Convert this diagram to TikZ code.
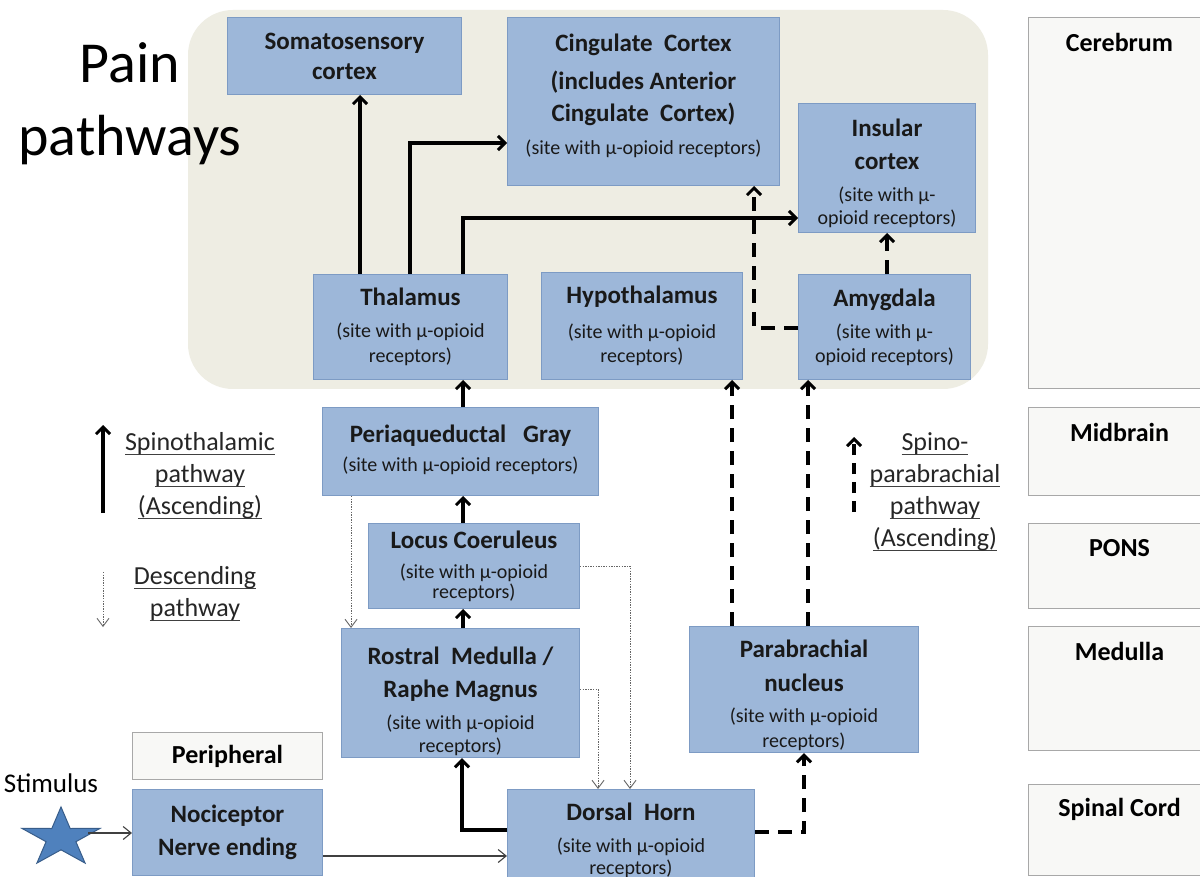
\documentclass[tikz,border=0pt]{standalone}
\usepackage{fontspec}
\setmainfont{Carlito}
\usetikzlibrary{arrows.meta,calc}
\definecolor{boxfill}{HTML}{9DB7D9}
\definecolor{boxline}{HTML}{7D9BC4}
\definecolor{zonefill}{HTML}{EEEDE3}
\definecolor{regfill}{HTML}{F8F8F6}
\definecolor{regline}{HTML}{A8A8A8}
\definecolor{starfill}{HTML}{4F81BD}
\definecolor{starline}{HTML}{385D8A}
\newcommand{\bt}{\fontsize{25}{30}\bfseries\selectfont}
\newcommand{\sm}[1]{{\fontsize{20}{24}\mdseries\selectfont #1}}
% underline drawn at a fixed depth, through descenders
\newcommand{\ulx}[1]{\setbox0\hbox{#1}\rlap{\color{black!75}\rule[-4pt]{\wd0}{1.1pt}}\box0}
\begin{document}
\begin{tikzpicture}[x=1pt,y=-1pt,
  box/.style={draw=boxline,fill=boxfill,line width=1pt,anchor=north west,
    align=center,inner sep=2pt,font=\bt,text=black!90},
  region/.style={draw=regline,fill=regfill,line width=1pt,anchor=north west},
  regtitle/.style={font=\fontsize{26}{30}\bfseries\selectfont,anchor=center,yshift=-25pt},
  asc/.style={line width=3.6pt,-{Straight Barb[length=7pt,width=14pt,line width=3pt]}},
  ascdash/.style={asc,dash pattern=on 14pt off 9pt},
  desc/.style={line width=0.9pt,gray!80!black,dash pattern=on 1.4pt off 1.2pt,
    -{Straight Barb[length=8pt,width=12pt,line width=0.9pt,sep=0pt]}},
  feed/.style={line width=1.1pt,black!75,-{Straight Barb[length=8pt,width=13pt,line width=1.1pt]}},
  legend/.style={font=\fontsize{26}{32}\selectfont,align=center,text=black!85}]
\useasboundingbox (0,0) rectangle (1200,877);
\fill[white] (0,0) rectangle (1200,877);

% cerebrum zone
\fill[zonefill,rounded corners=45pt] (188,10) rectangle (988,389);

% title
\node[font=\fontsize{58}{73}\selectfont,align=center] (title) at (130,104) {Pain\\pathways};

% brain region column
\node[region,minimum width=182pt,minimum height=371pt,
  label={[regtitle]north:Cerebrum}] (cerebrum) at (1028,17) {};
\node[region,minimum width=182pt,minimum height=88pt,
  label={[regtitle]north:Midbrain}] (midbrain) at (1028,407) {};
\node[region,minimum width=182pt,minimum height=85pt,
  label={[regtitle]north:PONS}] (pons) at (1028,523) {};
\node[region,minimum width=182pt,minimum height=124pt,
  label={[regtitle]north:Medulla}] (medulla) at (1028,626) {};
\node[region,minimum width=182pt,minimum height=91pt,
  label={[regtitle]north:Spinal Cord}] (spinal) at (1028,784) {};

% structures
\node[box,minimum width=234pt,minimum height=77pt] (soma) at (227,17)
  {Somatosensory\\cortex};
\node[box,minimum width=272pt,minimum height=168pt] (cing) at (507,17)
  {Cingulate\ \ Cortex\\[8pt](includes Anterior\\[2pt]Cingulate\ \ Cortex)\\[3pt]
   \sm{(site with μ-opioid receptors)}\\[-15pt]\mbox{}};
\node[box,minimum width=177pt,minimum height=129pt] (insula) at (798,103)
  {\mbox{}\\[-1pt]Insular\\[3pt]cortex\\[2pt]\sm{(site with μ-}\\[-7pt]\sm{opioid receptors)}};
\node[box,minimum width=194pt,minimum height=105pt] (thal) at (313,274)
  {Thalamus\\[2pt]\sm{(site with μ-opioid}\\[-5pt]\sm{receptors)}};
\node[box,minimum width=201pt,minimum height=107pt] (hypo) at (541,272)
  {Hypothalamus\\[5pt]\sm{(site with μ-opioid}\\[-6pt]\sm{receptors)}};
\node[box,minimum width=172pt,minimum height=105pt] (amyg) at (798,274)
  {Amygdala\\[2pt]\sm{(site with μ-}\\[-6pt]\sm{opioid receptors)}};
\node[box,minimum width=276pt,minimum height=88pt] (pag) at (322,407)
  {Periaqueductal\ \ \ Gray\\[-1pt]\sm{(site with μ-opioid receptors)}\\[-24pt]\mbox{}};
\node[box,minimum width=211pt,minimum height=85pt] (lc) at (368,523)
  {Locus Coeruleus\\[0pt]\sm{(site with μ-opioid}\\[-10pt]\sm{receptors)}};
\node[box,minimum width=238pt,minimum height=122pt] (rm) at (341,628)
  {\mbox{}\\[4pt]Rostral\ \ Medulla\ /\\[3pt]Raphe Magnus\\[2pt]\sm{(site with μ-opioid}\\[-7pt]\sm{receptors)}};
\node[box,minimum width=229pt,minimum height=125pt] (pb) at (689,626)
  {\mbox{}\\[-1pt]Parabrachial\\[4pt]nucleus\\[1pt]\sm{(site with μ-opioid}\\[-5pt]\sm{receptors)}};
\node[region,minimum width=190pt,minimum height=47pt] (periph) at (132,732) {};
\node[font=\fontsize{26}{30}\bfseries\selectfont] (periphtext) at (periph.center) {Peripheral};
\node[box,minimum width=190pt,minimum height=86pt] (noci) at (132,789)
  {Nociceptor\\[3pt]Nerve ending};
\node[box,minimum width=247pt,minimum height=102pt] (dh) at (507,789)
  {Dorsal\ \ Horn\\[2pt]\sm{(site with μ-opioid}\\[-8pt]\sm{receptors)}};

% stimulus
\filldraw[fill=starfill,draw=starline,line width=1pt]
  (61,807) -- (70.2,828.5) -- (100,828.4) -- (75.9,841.7) -- (85.1,863.1)
  -- (61,849.8) -- (36.9,863.1) -- (46.1,841.7) -- (22,828.4) -- (51.8,828.5) -- cycle;
\coordinate (stim) at (88,833);
\node[font=\fontsize{27}{30}\selectfont] (stimlabel) at (51,783) {Stimulus};

% ascending spinothalamic pathway
\draw[asc] (thal.north -| 360,0) -- (soma.south -| 360,0);
\draw[asc] (thal.north -| 410,0) |- (cing.west |- 0,143);
\draw[asc] (thal.north -| 463,0) |- (insula.west |- 0,218);
\draw[asc] (pag.north -| 463,0) -- (thal.south -| 463,0);
\draw[asc] (lc.north -| 463,0) -- (pag.south -| 463,0);
\draw[asc] (rm.north -| 463,0) -- (lc.south -| 463,0);
\draw[asc] (dh.west |- 0,830) -| (rm.south -| 462,0);

% ascending spino-parabrachial pathway
\draw[ascdash] (dh.east |- 0,832) -| (pb.south -| 804,0);
\draw[ascdash] (pb.north -| 732,0) -- (hypo.south -| 732,0);
\draw[ascdash] (pb.north -| 808,0) -- (amyg.south -| 808,0);
\draw[ascdash] (amyg.north -| 887,0) -- (insula.south -| 887,0);
\draw[ascdash] (amyg.west |- 0,328) -| (cing.south -| 754,0);

% descending pathway
\draw[desc] (pag.south -| 351,0) -- (rm.north -| 351,0);
\draw[desc] (lc.east |- 0,566) -| (dh.north -| 630,0);
\draw[desc] (rm.east |- 0,689) -| (dh.north -| 598,0);

% peripheral input
\draw[feed] (stim) -- (noci.west |- stim);
\draw[feed] (noci.east |- 0,856) -- (dh.west |- 0,856);

% legend
\coordinate (l1a) at (103,513); \coordinate (l1b) at (103,425);
\draw[asc] (l1a) -- (l1b);
\node[legend] (l1) at (200,476) {\ulx{Spinothalamic}\\\ulx{pathway}\\\ulx{(Ascending)}};
\coordinate (l2a) at (103,572); \coordinate (l2b) at (103,627);
\draw[desc] (l2a) -- (l2b);
\node[legend] (l2) at (195,594) {\ulx{Descending}\\\ulx{pathway}};
\coordinate (l3a) at (854,512); \coordinate (l3b) at (854,437);
\draw[ascdash,dash pattern=on 11pt off 8pt] (l3a) -- (l3b);
\node[legend] (l3) at (935,492) {\ulx{Spino-}\\\ulx{parabrachial}\\\ulx{pathway}\\\ulx{(Ascending)}};
\end{tikzpicture}
\end{document}
